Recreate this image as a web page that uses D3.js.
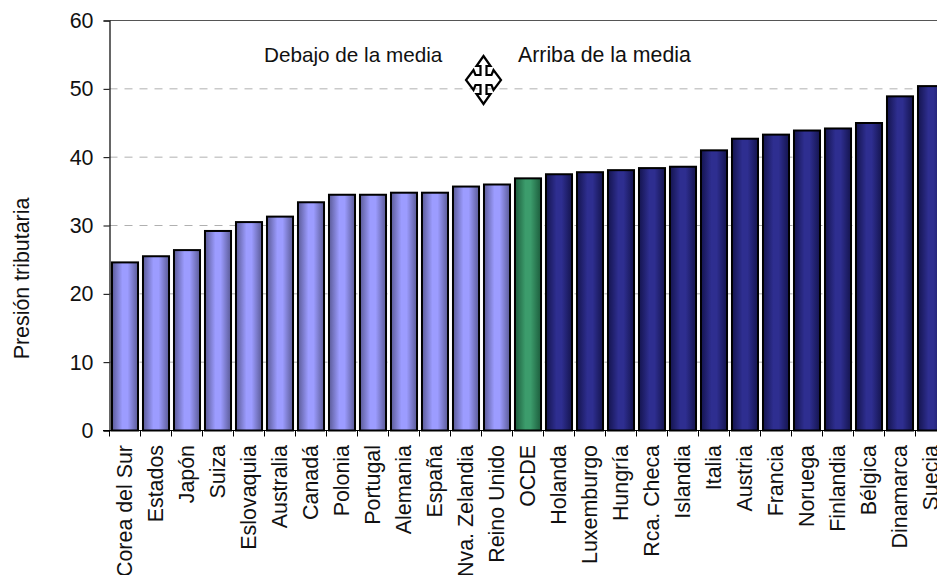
<!DOCTYPE html>
<html>
<head>
<meta charset="utf-8">
<script src="https://cdn.jsdelivr.net/npm/d3@7"></script>
<style>
  html, body { margin: 0; padding: 0; background: #fff; overflow: hidden; }
  svg { display: block; font-family: "Liberation Sans", Arial, sans-serif; }
</style>
</head>
<body>
<svg id="chart" width="937" height="575"></svg>
<script>
// Tax pressure by country, sorted ascending
const countries = ["Corea del Sur", "Estados", "Japón", "Suiza", "Eslovaquia", "Australia", "Canadá",
    "Polonia", "Portugal", "Alemania", "España", "Nva. Zelandia", "Reino Unido", "OCDE", "Holanda",
    "Luxemburgo", "Hungría", "Rca. Checa", "Islandia", "Italia", "Austria", "Francia", "Noruega",
    "Finlandia", "Bélgica", "Dinamarca", "Suecia"];
const values = [24.6, 25.5, 26.4, 29.2, 30.5, 31.3, 33.4, 34.5, 34.5, 34.8, 34.8, 35.7, 36.0, 36.9,
    37.5, 37.8, 38.1, 38.4, 38.6, 41.0, 42.7, 43.3, 43.9, 44.2, 45.0, 48.9, 50.4];
const yTicks = [0, 10, 20, 30, 40, 50, 60];
const averageName = "OCDE";
const fontSize = 21.4;

const svg = d3.select("#chart");

// the plot runs past the right edge of the page, Suecia gets cut off
const xScale = d3.scaleBand().domain(countries).range([109.5, 946.5]).paddingInner(0.16).paddingOuter(0.08);
const yScale = d3.scaleLinear().domain([0, 60]).range([430.5, 20.5]);

// Horizontal shading for the three bar groups
const defs = svg.append("defs");
function addGradient(id, edge, mid) {
    let grad = defs.append("linearGradient").attr("id", id).attr("x1", 0).attr("x2", 1).attr("y1", 0).attr("y2", 0);
    grad.append("stop").attr("offset", "0%").attr("stop-color", edge);
    grad.append("stop").attr("offset", "40%").attr("stop-color", mid);
    grad.append("stop").attr("offset", "60%").attr("stop-color", mid);
    grad.append("stop").attr("offset", "100%").attr("stop-color", edge);
}
addGradient("below", "#5a5a96", "#9c9cff");
addGradient("average", "#1c5c3c", "#3c9c6c");
addGradient("above", "#14144e", "#2e2e90");

// Gridlines, the top one reads as a solid line
svg.append("g")
    .selectAll("line")
    .data(yTicks.filter(d => d > 0))
    .enter()
    .append("line")
    .attr("x1", 109.5)
    .attr("x2", 937)
    .attr("y1", d => yScale(d))
    .attr("y2", d => yScale(d))
    .attr("stroke", d => d === 60 ? "#555" : "#b0b0b0")
    .attr("stroke-width", 1)
    .attr("stroke-dasharray", d => d === 60 ? null : "8,7");

// Bars
svg.append("g")
    .selectAll("rect")
    .data(countries)
    .enter()
    .append("rect")
    .attr("x", d => xScale(d))
    .attr("width", xScale.bandwidth())
    .attr("y", (d, i) => yScale(values[i]))
    .attr("height", (d, i) => yScale(0) - yScale(values[i]))
    .attr("fill", (d, i) => d === averageName ? "url(#average)" : (i < countries.indexOf(averageName) ? "url(#below)" : "url(#above)"))
    .attr("stroke", "#000")
    .attr("stroke-width", 2);

// Y axis
svg.append("g")
    .attr("transform", "translate(109.5, 0)")
    .call(d3.axisLeft(yScale).tickValues(yTicks).tickSize(6).tickPadding(10))
    .call(g => g.select(".domain").attr("stroke", "#000").attr("stroke-width", 1.2))
    .call(g => g.selectAll(".tick line").attr("stroke", "#000"))
    .call(g => g.selectAll("text").attr("font-size", fontSize).attr("font-family", "Liberation Sans").attr("fill", "#111"));

// X axis, ticks sit between the categories rather than on them
const step = xScale.step();
svg.append("line")
    .attr("x1", 103).attr("x2", 937)
    .attr("y1", yScale(0)).attr("y2", yScale(0))
    .attr("stroke", "#000").attr("stroke-width", 1.2);
svg.append("g")
    .selectAll("line")
    .data(countries)
    .enter()
    .append("line")
    .attr("x1", d => xScale(d) - (step - xScale.bandwidth()) / 2)
    .attr("x2", d => xScale(d) - (step - xScale.bandwidth()) / 2)
    .attr("y1", yScale(0))
    .attr("y2", yScale(0) + 6)
    .attr("stroke", "#000");

// Category labels, rotated
svg.append("g")
    .selectAll("text")
    .data(countries)
    .enter()
    .append("text")
    .attr("transform", d => `translate(${xScale(d) + xScale.bandwidth() / 2 + 7}, 445) rotate(-90)`)
    .attr("text-anchor", "end")
    .attr("font-size", fontSize)
    .attr("fill", "#111")
    .text(d => d);

// Axis title
svg.append("text")
    .attr("transform", "translate(28.5, 278.5) rotate(-90)")
    .attr("text-anchor", "middle")
    .attr("font-size", fontSize)
    .attr("fill", "#111")
    .text("Presión tributaria");

// Notes on either side of the average
svg.append("text").attr("x", 264).attr("y", 62).attr("font-size", 20.7).attr("fill", "#111").text("Debajo de la media");
svg.append("text").attr("x", 518).attr("y", 62).attr("font-size", 21.3).attr("fill", "#111").text("Arriba de la media");

// Four-way arrow between the notes
svg.append("path")
    .attr("transform", "translate(483.5, 80)")
    .attr("d", "M0,-24 L7,-14 L3,-14 L3,-5 L8,-5 L10,-10 L17.5,0 L10,10 L8,5 L3,5 L3,14 L7,14 L0,24 L-7,14 L-3,14 L-3,5 L-8,5 L-10,10 L-17.5,0 L-10,-10 L-8,-5 L-3,-5 L-3,-14 L-7,-14 Z")
    .attr("fill", "#fff")
    .attr("stroke", "#000")
    .attr("stroke-width", 2.2);
</script>
</body>
</html>
